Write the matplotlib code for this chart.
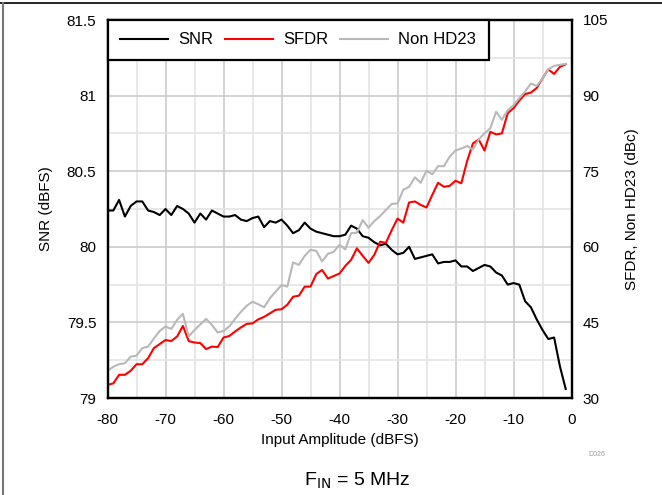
import matplotlib
matplotlib.use('Agg')
import matplotlib.pyplot as plt
from matplotlib.lines import Line2D
from matplotlib.ticker import MultipleLocator

plt.rcParams['font.family'] = ['Liberation Sans', 'DejaVu Sans']
plt.rcParams['axes.unicode_minus'] = False

# input amplitude sweep (dBFS)
amplitude = [-80, -79, -78, -77, -76, -75, -74, -73, -72, -71,
             -70, -69, -68, -67, -66, -65, -64, -63, -62, -61,
             -60, -59, -58, -57, -56, -55, -54, -53, -52, -51,
             -50, -49, -48, -47, -46, -45, -44, -43, -42, -41,
             -40, -39, -38, -37, -36, -35, -34, -33, -32, -31,
             -30, -29, -28, -27, -26, -25, -24, -23, -22, -21,
             -20, -19, -18, -17, -16, -15, -14, -13, -12, -11,
             -10, -9, -8, -7, -6, -5, -4, -3, -2, -1]

# SNR (dBFS), left axis
snr = [80.24, 80.24, 80.31, 80.20, 80.27, 80.30, 80.30, 80.24, 80.23, 80.21,
       80.25, 80.21, 80.27, 80.25, 80.22, 80.16, 80.22, 80.18, 80.24, 80.22,
       80.20, 80.20, 80.21, 80.18, 80.17, 80.19, 80.20, 80.13, 80.17, 80.16,
       80.18, 80.14, 80.09, 80.11, 80.16, 80.12, 80.10, 80.09, 80.08, 80.07,
       80.07, 80.08, 80.14, 80.12, 80.07, 80.06, 80.03, 80.01, 80.02, 79.98,
       79.95, 79.96, 80.00, 79.92, 79.93, 79.94, 79.95, 79.89, 79.90, 79.90,
       79.91, 79.87, 79.87, 79.84, 79.86, 79.88, 79.87, 79.83, 79.81, 79.75,
       79.76, 79.75, 79.64, 79.60, 79.52, 79.45, 79.39, 79.40, 79.21, 79.06]

# SFDR (dBc), right axis
sfdr = [32.6, 32.9, 34.6, 34.6, 35.4, 36.7, 36.7, 37.9, 39.9, 40.7,
        41.5, 41.3, 42.2, 44.3, 41.3, 41.0, 40.9, 39.7, 40.2, 40.1,
        42.0, 42.3, 43.2, 44.0, 44.7, 44.8, 45.6, 46.1, 46.8, 47.5,
        47.6, 48.5, 50.1, 50.3, 52.1, 52.1, 54.6, 55.4, 53.7, 54.2,
        54.7, 56.2, 57.4, 59.7, 58.2, 56.8, 58.4, 61.0, 60.8, 63.3,
        65.6, 64.8, 68.8, 69.0, 68.3, 67.8, 70.3, 72.7, 71.9, 72.1,
        73.1, 72.6, 77.0, 80.5, 81.3, 79.1, 82.8, 82.3, 82.5, 86.5,
        87.5, 89.0, 90.3, 90.6, 91.5, 93.4, 95.2, 94.3, 95.7, 96.2]

# Non HD23 (dBc), right axis
nonhd23 = [35.4, 36.2, 36.7, 36.9, 38.2, 38.4, 39.9, 40.2, 41.8, 43.3,
           44.2, 43.7, 45.5, 46.7, 42.2, 43.5, 44.6, 45.7, 44.5, 43.0,
           43.3, 44.2, 45.7, 47.1, 48.3, 49.1, 48.6, 48.0, 49.8, 51.1,
           52.4, 52.1, 56.9, 56.4, 58.2, 59.4, 59.2, 57.1, 58.6, 59.0,
           60.4, 59.5, 62.7, 62.8, 65.3, 63.8, 65.1, 66.1, 67.3, 68.5,
           68.6, 71.3, 71.9, 73.8, 72.7, 75.1, 74.4, 76.0, 76.0, 77.9,
           79.1, 79.5, 80.0, 79.3, 81.3, 82.5, 83.5, 86.8, 85.2, 87.1,
           88.1, 89.5, 90.8, 92.4, 91.9, 93.4, 95.2, 95.9, 96.1, 96.3]

fig = plt.figure(figsize=(6.62, 4.95), dpi=100)
ax1 = fig.add_axes([107.5 / 662, 1 - 398 / 495, 464 / 662, 378 / 495])
ax2 = ax1.twinx()

# grid on the left axis
ax1.set_xlim(-80, 0)
ax1.set_ylim(79, 81.5)
ax1.xaxis.set_major_locator(MultipleLocator(10))
ax1.xaxis.set_minor_locator(MultipleLocator(5))
ax1.yaxis.set_major_locator(MultipleLocator(0.5))
ax1.yaxis.set_minor_locator(MultipleLocator(0.25))
ax1.grid(which='major', color='#c8c8c8', linewidth=1.1)
ax1.grid(which='minor', color='#e2e2e2', linewidth=1.1)
ax1.set_axisbelow(True)

snr_line, = ax1.plot(amplitude, snr, color='black', linewidth=1.5)
sfdr_line, = ax2.plot(amplitude, sfdr, color='#ff0000', linewidth=1.5)
hd_line, = ax2.plot(amplitude, nonhd23, color='#b8b8b8', linewidth=1.5)

ax2.set_ylim(30, 105)
ax2.yaxis.set_major_locator(MultipleLocator(15))

ax1.set_yticks([79, 79.5, 80, 80.5, 81, 81.5])
ax1.set_yticklabels(['79', '79.5', '80', '80.5', '81', '81.5'])

for a in (ax1, ax2):
    a.tick_params(which='both', length=0, labelsize=11, pad=8)
    for s in a.spines.values():
        s.set_linewidth(1.6)
        s.set_color('black')
ax1.tick_params(axis='x', pad=11)

ax1.set_xlabel('Input Amplitude (dBFS)', fontsize=11, labelpad=4)
ax1.set_ylabel('SNR (dBFS)', fontsize=11, labelpad=10)
ax2.set_ylabel('SFDR, Non HD23 (dBc)', fontsize=11, labelpad=12)

leg = ax2.legend([snr_line, sfdr_line, hd_line], ['SNR', 'SFDR', 'Non HD23'],
                 loc='upper left', ncol=3, fontsize=12, frameon=True,
                 fancybox=False, borderaxespad=0, borderpad=0.75,
                 handlelength=2.9, handletextpad=0.6, columnspacing=0.7)
leg.get_frame().set_edgecolor('black')
leg.get_frame().set_linewidth(1.6)
leg.get_frame().set_alpha(1)

fig.text(357 / 662, 1 - 481 / 495, r'F$_{\mathrm{IN}}$ = 5 MHz', fontsize=14,
         ha='center', va='center')
fig.text(597 / 662, 1 - 455 / 495, 'D026', fontsize=5, color='#999999',
         ha='center', va='center')

# frame pieces at the figure edges
fig.add_artist(Line2D([0, 1], [1 - 3 / 495, 1 - 3 / 495], color='black', linewidth=1.2))
fig.add_artist(Line2D([3 / 662, 3 / 662], [0, 1 - 3 / 495], color='#777777', linewidth=1.5))

fig.savefig('out.png', dpi=100)
